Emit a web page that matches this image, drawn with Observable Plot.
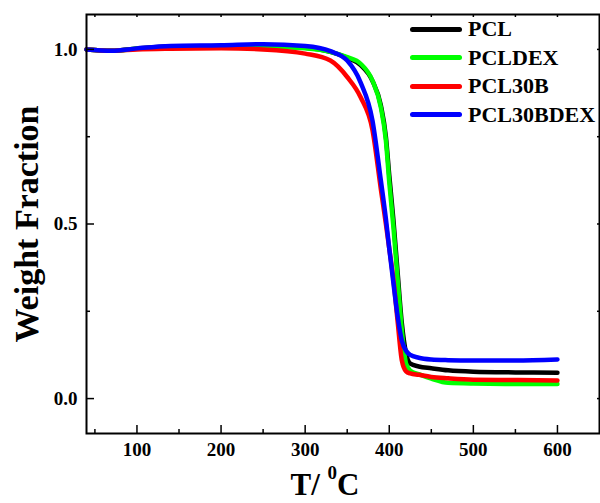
<!DOCTYPE html>
<html><head><meta charset="utf-8">
<script src="https://cdn.jsdelivr.net/npm/d3@7"></script>
<script src="https://cdn.jsdelivr.net/npm/@observablehq/plot@0.6"></script>
<style>
body{margin:0;background:#fff}
#chart{position:relative;width:600px;height:503px;font-family:"Liberation Serif","Times New Roman",serif}
</style></head><body><div id="chart"></div>
<script>
const temps = [40, 70, 100, 140, 200, 250, 300, 330, 350, 366, 380, 390, 396, 400, 405, 410, 415, 420, 425, 435, 450, 470, 500, 550, 600];
const pcl =       [1.0, 0.996, 1.003, 1.008, 1.010, 1.010, 1.005, 0.993, 0.976, 0.955, 0.910, 0.840, 0.750, 0.640, 0.510, 0.360, 0.215, 0.130, 0.100, 0.092, 0.087, 0.081, 0.077, 0.075, 0.074];
const pclDex =    [1.0, 0.996, 1.002, 1.006, 1.008, 1.008, 1.003, 0.993, 0.978, 0.959, 0.911, 0.834, 0.739, 0.620, 0.490, 0.340, 0.195, 0.100, 0.080, 0.070, 0.057, 0.045, 0.043, 0.042, 0.042];
const pcl30B =    [1.0, 0.996, 1.000, 1.002, 1.003, 1.000, 0.988, 0.968, 0.921, 0.863, 0.770, 0.600, 0.500, 0.430, 0.340, 0.220, 0.109, 0.078, 0.072, 0.068, 0.062, 0.058, 0.054, 0.053, 0.052];
const pcl30BDex = [1.0, 0.996, 1.003, 1.010, 1.012, 1.015, 1.010, 0.995, 0.968, 0.905, 0.797, 0.625, 0.515, 0.430, 0.330, 0.235, 0.166, 0.137, 0.125, 0.117, 0.112, 0.110, 0.109, 0.109, 0.112];
const seriesNames = ["PCL", "PCLDEX", "PCL30B", "PCL30BDEX"];
const seriesColors = ["#000000", "#00ff00", "#ff0000", "#0000ff"];
const xMajorTicks = [100, 200, 300, 400, 500, 600];
const xMinorTicks = [50, 150, 250, 350, 450, 550];
const yMajorTicks = [0, 0.5, 1.0];
const yMinorTicks = [0.25, 0.75];
const xTitle = ["T/ ", "0", "C"];
const yTitle = "Weight Fraction";

const values = [pcl, pclDex, pcl30B, pcl30BDex];
const rows = seriesNames.flatMap((s, i) => temps.map((t, j) => ({T: t, W: values[i][j], series: s})));

const plot = Plot.plot({
  width: 600, height: 503,
  marginLeft: 86, marginRight: 1, marginTop: 14, marginBottom: 70,
  style: {fontFamily: '"Liberation Serif","Times New Roman",serif', fontWeight: "bold", fontSize: "19px", color: "#000", background: "#fff"},
  x: {domain: [40, 650]},
  y: {domain: [-0.1, 1.1]},
  color: {domain: seriesNames, range: seriesColors},
  marks: [
    Plot.line(rows, {x: "T", y: "W", z: "series", stroke: "series", strokeWidth: 4.5, curve: "monotone-x", strokeLinecap: "round", strokeLinejoin: "round"}),
    Plot.axisX({ticks: xMajorTicks, tickSize: 0, tickPadding: 9, tickFormat: d => String(d), label: null, fontSize: 19, fontWeight: "bold"}),
    Plot.axisX({ticks: xMajorTicks, tickSize: -8, text: null, label: null, strokeWidth: 1.5}),
    Plot.axisX({ticks: xMinorTicks, tickSize: -4, text: null, label: null, strokeWidth: 1.5}),
    Plot.axisX({anchor: "top", ticks: xMajorTicks.concat(xMinorTicks), tickSize: -2, text: null, label: null, strokeWidth: 1.5}),
    Plot.axisY({ticks: yMajorTicks, tickSize: 0, tickPadding: 9, tickFormat: d3.format(".1f"), label: null, fontSize: 19, fontWeight: "bold"}),
    Plot.axisY({ticks: yMajorTicks, tickSize: -8, text: null, label: null, strokeWidth: 1.5}),
    Plot.axisY({ticks: yMinorTicks, tickSize: -4, text: null, label: null, strokeWidth: 1.5}),
    Plot.axisY({anchor: "right", ticks: yMajorTicks.concat(yMinorTicks), tickSize: -3, text: null, label: null, strokeWidth: 1.5}),
    Plot.frame({stroke: "#000", strokeWidth: 2})
  ]
});
document.getElementById("chart").appendChild(plot);

const svg = d3.select(plot);
const xt = svg.append("text")
  .attr("x", 325).attr("y", 495)
  .attr("text-anchor", "middle")
  .style("font-size", "31px").style("font-weight", "bold").attr("fill", "#000");
xt.append("tspan").text(xTitle[0]);
xt.append("tspan").attr("dy", -16).style("font-size", "19px").text(xTitle[1]);
xt.append("tspan").attr("dy", 16).text(xTitle[2]);

svg.append("text")
  .attr("transform", "translate(26,224) rotate(-90)")
  .attr("text-anchor", "middle").attr("dominant-baseline", "central")
  .style("font-size", "34px").style("font-weight", "bold").attr("fill", "#000")
  .text(yTitle);

const legend = d3.select("#chart").append("div")
  .style("position", "absolute").style("left", "410px").style("top", "15px");
seriesNames.forEach((s, i) => {
  const row = legend.append("div").style("display", "flex").style("align-items", "center").style("height", "28.5px");
  row.append("div").style("width", "52px").style("height", "5px").style("border-radius", "3px").style("background", seriesColors[i]);
  row.append("span").style("margin-left", "6px").style("font-size", "22px").style("font-weight", "bold").style("color", "#000").style("line-height", "1").text(s);
});
</script>
</body></html>
